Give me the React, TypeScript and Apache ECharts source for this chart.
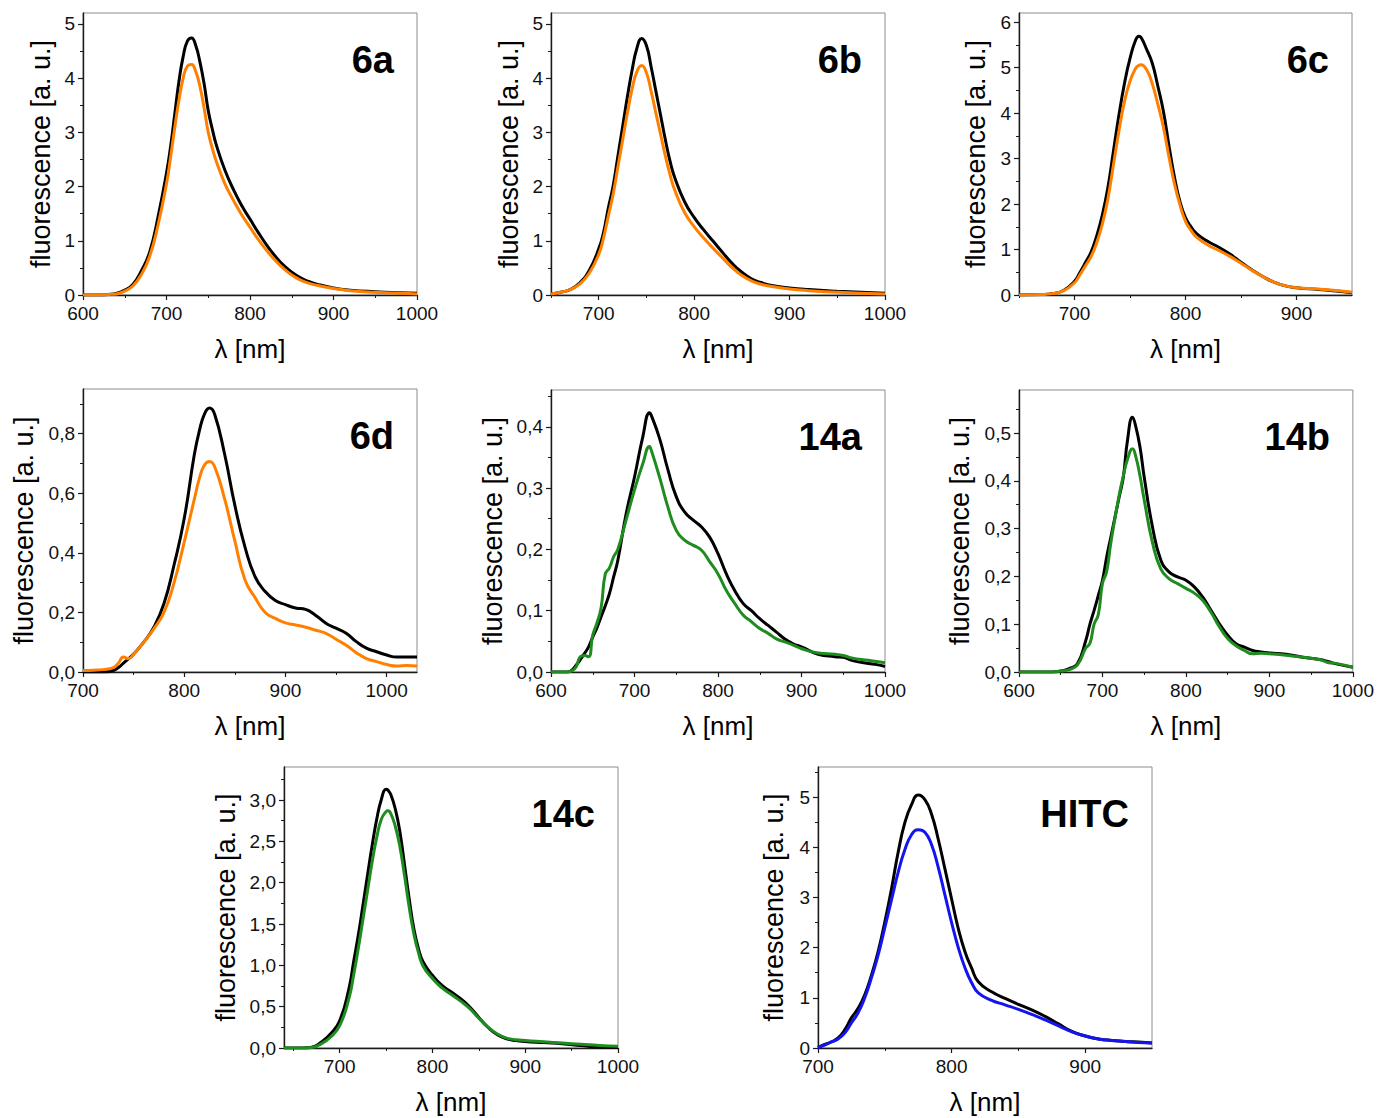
import React, { useEffect, useRef } from "react";
import * as echarts from "echarts";

// ---------- DATA ----------
const wl6a = [600,620,630,640,650,660,670,680,690,700,705,710,715,720,725,730,735,740,745,750,755,760,770,780,790,800,810,820,830,840,850,860,870,880,900,920,950,980,1000];
const ref6a = [0,0,0.01,0.03,0.09,0.2,0.45,0.8,1.45,2.25,2.75,3.35,3.95,4.4,4.68,4.74,4.6,4.3,3.9,3.4,3.05,2.75,2.3,1.95,1.65,1.4,1.15,0.92,0.72,0.55,0.42,0.32,0.25,0.2,0.13,0.09,0.06,0.04,0.03];
const smp6a = [0,0,0.01,0.02,0.07,0.17,0.38,0.72,1.3,2.05,2.55,3.1,3.6,4.0,4.22,4.25,4.12,3.85,3.45,3.0,2.7,2.45,2.05,1.75,1.48,1.25,1.02,0.82,0.64,0.49,0.37,0.28,0.22,0.18,0.12,0.08,0.05,0.03,0.02];

const wl6b = [650,660,670,680,690,700,705,710,715,720,725,730,735,740,745,750,755,760,765,770,775,780,790,800,810,820,830,840,850,860,870,880,900,920,950,1000];
const ref6b = [0.02,0.05,0.1,0.22,0.45,0.85,1.15,1.6,2.0,2.55,3.1,3.65,4.15,4.55,4.73,4.6,4.2,3.75,3.3,2.85,2.45,2.15,1.72,1.43,1.2,0.99,0.78,0.58,0.42,0.3,0.23,0.18,0.13,0.1,0.07,0.03];
const smp6b = [0.02,0.05,0.1,0.2,0.4,0.75,1.05,1.45,1.85,2.35,2.85,3.35,3.8,4.12,4.23,4.1,3.75,3.35,2.95,2.55,2.2,1.92,1.52,1.26,1.05,0.86,0.68,0.5,0.36,0.26,0.2,0.16,0.11,0.08,0.05,0.02];

const wl6c = [650,670,680,690,700,705,710,715,720,725,730,735,740,745,750,755,758,760,765,770,775,780,785,790,795,800,805,810,820,830,840,850,860,870,880,890,900,920,935,950];
const ref6c = [0,0.01,0.03,0.1,0.3,0.5,0.72,0.95,1.3,1.75,2.35,3.15,3.95,4.65,5.2,5.6,5.69,5.66,5.4,5.1,4.6,4.05,3.3,2.6,2.05,1.7,1.5,1.35,1.18,1.05,0.9,0.72,0.55,0.4,0.28,0.2,0.16,0.12,0.09,0.05];
const smp6c = [0,0.01,0.03,0.09,0.27,0.45,0.65,0.85,1.15,1.55,2.1,2.85,3.6,4.25,4.7,4.98,5.05,5.06,4.95,4.65,4.2,3.7,3.05,2.45,1.98,1.62,1.42,1.27,1.1,0.98,0.85,0.7,0.54,0.4,0.28,0.2,0.16,0.13,0.1,0.06];

const wl6d = [700,710,720,730,735,740,745,750,760,770,780,790,800,810,815,820,825,830,840,850,860,870,880,890,900,910,920,930,940,950,960,970,980,990,1000,1010,1020,1030];
const ref6d = [0,0,0,0.005,0.015,0.03,0.045,0.06,0.1,0.15,0.23,0.36,0.515,0.73,0.81,0.866,0.886,0.866,0.73,0.56,0.42,0.32,0.27,0.24,0.226,0.215,0.21,0.19,0.164,0.147,0.13,0.102,0.08,0.068,0.057,0.05,0.05,0.05];
const smp6d = [0.005,0.006,0.008,0.015,0.03,0.05,0.045,0.06,0.1,0.145,0.2,0.3,0.436,0.58,0.65,0.695,0.707,0.69,0.58,0.44,0.31,0.25,0.2,0.18,0.165,0.158,0.15,0.14,0.13,0.11,0.09,0.065,0.045,0.035,0.025,0.02,0.022,0.02];

const wl14a = [600,620,625,630,635,640,645,650,655,660,665,670,675,680,690,700,710,718,720,730,740,750,760,770,780,790,800,810,820,830,840,850,860,870,880,890,900,920,940,950,960,980,990,1000];
const ref14a = [0,0,0.003,0.011,0.02,0.03,0.041,0.057,0.072,0.09,0.108,0.128,0.155,0.182,0.258,0.318,0.384,0.423,0.419,0.381,0.33,0.286,0.261,0.248,0.237,0.22,0.193,0.16,0.133,0.112,0.1,0.087,0.076,0.065,0.054,0.046,0.041,0.029,0.025,0.024,0.019,0.014,0.012,0.009];
const smp14a = [0,0,0.002,0.008,0.025,0.027,0.025,0.06,0.08,0.105,0.16,0.17,0.188,0.2,0.248,0.297,0.34,0.368,0.362,0.318,0.269,0.231,0.215,0.207,0.199,0.18,0.16,0.133,0.112,0.093,0.082,0.071,0.063,0.054,0.049,0.044,0.038,0.031,0.029,0.027,0.023,0.019,0.017,0.015];

const wl14b = [600,640,650,660,670,680,685,690,695,700,705,710,720,725,730,736,740,745,750,760,770,780,790,800,810,820,830,840,850,860,870,880,890,900,920,940,960,970,980,1000];
const ref14b = [0,0,0.002,0.007,0.017,0.066,0.1,0.129,0.16,0.192,0.24,0.282,0.366,0.408,0.485,0.533,0.513,0.47,0.408,0.303,0.234,0.209,0.199,0.192,0.178,0.157,0.129,0.101,0.077,0.059,0.052,0.045,0.042,0.04,0.037,0.031,0.026,0.022,0.017,0.01];
const smp14b = [0,0,0.002,0.005,0.015,0.05,0.06,0.1,0.12,0.185,0.21,0.27,0.37,0.41,0.445,0.467,0.45,0.41,0.36,0.27,0.215,0.195,0.185,0.175,0.165,0.15,0.125,0.095,0.07,0.055,0.045,0.038,0.039,0.038,0.035,0.031,0.026,0.02,0.018,0.01];

const wl14c = [640,660,670,680,690,700,710,715,720,725,730,735,740,745,750,752,755,760,765,770,775,780,785,790,800,810,820,830,840,850,860,870,880,890,900,920,940,960,980,1000];
const ref14c = [0,0,0.01,0.07,0.17,0.33,0.72,1.04,1.36,1.72,2.09,2.45,2.77,3.01,3.13,3.12,3.07,2.89,2.61,2.21,1.8,1.44,1.2,1.04,0.88,0.76,0.68,0.6,0.5,0.37,0.25,0.16,0.11,0.09,0.08,0.065,0.05,0.03,0.012,0.008];
const smp14c = [0,0,0.005,0.05,0.13,0.27,0.6,0.88,1.2,1.55,1.9,2.25,2.55,2.77,2.86,2.87,2.84,2.68,2.43,2.08,1.7,1.38,1.15,0.99,0.84,0.73,0.65,0.57,0.48,0.36,0.25,0.17,0.12,0.1,0.09,0.075,0.06,0.045,0.03,0.02];

const wlHITC = [700,705,710,715,720,725,730,735,740,745,750,755,760,765,770,775,780,785,790,795,800,805,810,815,820,830,840,850,860,870,880,890,900,910,920,930,940,950];
const refHITC = [0.01,0.07,0.12,0.2,0.36,0.6,0.79,1.06,1.45,1.92,2.51,3.17,3.9,4.49,4.85,5.04,4.95,4.66,4.16,3.57,2.97,2.38,1.92,1.59,1.32,1.12,0.99,0.87,0.76,0.63,0.48,0.33,0.24,0.18,0.15,0.13,0.12,0.1];
const smpHITC = [0.01,0.06,0.12,0.18,0.3,0.5,0.7,1.0,1.4,1.85,2.4,2.95,3.5,3.95,4.25,4.35,4.3,4.05,3.6,3.05,2.5,2.0,1.6,1.3,1.1,0.95,0.86,0.77,0.67,0.56,0.44,0.32,0.24,0.18,0.15,0.13,0.11,0.1];

const labels = ["6a", "6b", "6c", "6d", "14a", "14b", "14c", "HITC"];
const xRanges = [[600,1000],[650,1000],[650,950],[700,1030],[600,1000],[600,1000],[640,1000],[700,950]];
const xMajor = [[600,700,800,900,1000],[700,800,900,1000],[700,800,900],[700,800,900,1000],[600,700,800,900,1000],[600,700,800,900,1000],[700,800,900,1000],[700,800,900]];
const xMinor = [[650,750,850,950],[650,750,850,950],[650,750,850],[750,850,950],[650,750,850,950],[650,750,850,950],[650,750,850,950],[750,850]];
const yMax = [5.2,5.2,6.2,0.95,0.46,0.59,3.4,5.6];
const yMajor = [[0,1,2,3,4,5],[0,1,2,3,4,5],[0,1,2,3,4,5,6],[0,0.2,0.4,0.6,0.8],[0,0.1,0.2,0.3,0.4],[0,0.1,0.2,0.3,0.4,0.5],[0,0.5,1,1.5,2,2.5,3],[0,1,2,3,4,5]];
const yMinor = [[0.5,1.5,2.5,3.5,4.5],[0.5,1.5,2.5,3.5,4.5],[0.5,1.5,2.5,3.5,4.5,5.5],[0.1,0.3,0.5,0.7,0.9],[0.05,0.15,0.25,0.35,0.45],[0.05,0.15,0.25,0.35,0.45,0.55],[0.25,0.75,1.25,1.75,2.25,2.75,3.25],[0.5,1.5,2.5,3.5,4.5,5.5]];
const wls = [wl6a, wl6b, wl6c, wl6d, wl14a, wl14b, wl14c, wlHITC];
const refs = [ref6a, ref6b, ref6c, ref6d, ref14a, ref14b, ref14c, refHITC];
const smps = [smp6a, smp6b, smp6c, smp6d, smp14a, smp14b, smp14c, smpHITC];

// ---------- LAYOUT / STYLE ----------
const ORANGE = "#ff8000";
const GREEN = "#1e8c1e";
const BLUE = "#1414f0";
const sampleColors = [ORANGE, ORANGE, ORANGE, ORANGE, GREEN, GREEN, GREEN, BLUE];
const grids = [
  { left: 83, top: 13, width: 334, height: 282 },
  { left: 551, top: 13, width: 334, height: 282 },
  { left: 1019, top: 13, width: 333, height: 282 },
  { left: 83, top: 389, width: 334, height: 283 },
  { left: 551, top: 390, width: 334, height: 282 },
  { left: 1019, top: 390, width: 334, height: 282 },
  { left: 284, top: 767, width: 334, height: 281 },
  { left: 818, top: 767, width: 334, height: 281 },
];
const decimalComma = [false, false, false, true, true, true, true, false];
const yNameGap = [29, 29, 30, 46, 45, 46, 45, 31];

const FONT = '"Liberation Sans", Arial, Helvetica, sans-serif';
const AX = "#1a1a1a";

function buildOption() {
  const grid: any[] = [];
  const xAxis: any[] = [];
  const yAxis: any[] = [];
  const series: any[] = [];
  const graphic: any[] = [];
  for (let i = 0; i < 8; i++) {
    const g = grids[i];
    grid.push({ ...g, show: true, borderColor: "#8c8c8c", borderWidth: 1, backgroundColor: "transparent", containLabel: false });
    const yfmt = (v: number) => {
      if (!decimalComma[i]) return String(Math.round(v));
      return v.toFixed(1).replace(".", ",");
    };
    const xfmt = (v: number) => String(Math.round(v));
    xAxis.push({
      gridIndex: i, type: "value", position: "bottom", min: xRanges[i][0], max: xRanges[i][1],
      name: "λ [nm]", nameLocation: "middle", nameGap: 41,
      nameTextStyle: { fontFamily: FONT, fontSize: 26, color: "#000" },
      axisLine: { show: true, onZero: false, lineStyle: { color: AX, width: 1.4 } },
      axisTick: { show: true, inside: false, length: 5, customValues: xMajor[i], lineStyle: { color: AX, width: 1.2 } },
      axisLabel: { show: true, customValues: xMajor[i], margin: 9, fontFamily: FONT, fontSize: 19, color: "#111", formatter: xfmt },
      splitLine: { show: false },
    });
    xAxis.push({
      gridIndex: i, type: "value", position: "bottom", min: xRanges[i][0], max: xRanges[i][1],
      axisLine: { show: false },
      axisTick: { show: true, inside: false, length: 3, customValues: xMinor[i], lineStyle: { color: AX, width: 1 } },
      axisLabel: { show: false },
      splitLine: { show: false },
    });
    yAxis.push({
      gridIndex: i, type: "value", position: "left", min: 0, max: yMax[i],
      name: "fluorescence [a. u.]", nameLocation: "middle", nameGap: yNameGap[i],
      nameTextStyle: { fontFamily: FONT, fontSize: 27, color: "#000" },
      axisLine: { show: true, onZero: false, lineStyle: { color: AX, width: 1.4 } },
      axisTick: { show: true, inside: false, length: 5, customValues: yMajor[i], lineStyle: { color: AX, width: 1.2 } },
      axisLabel: { show: true, customValues: yMajor[i], margin: 8, fontFamily: FONT, fontSize: 19, color: "#111", formatter: yfmt },
      splitLine: { show: false },
    });
    yAxis.push({
      gridIndex: i, type: "value", position: "left", min: 0, max: yMax[i],
      axisLine: { show: false },
      axisTick: { show: true, inside: false, length: 3, customValues: yMinor[i], lineStyle: { color: AX, width: 1 } },
      axisLabel: { show: false },
      splitLine: { show: false },
    });
    const wl = wls[i];
    series.push({
      type: "line", xAxisIndex: 2 * i, yAxisIndex: 2 * i, showSymbol: false, symbol: "none",
      smooth: 0.5,
      lineStyle: { color: "#000", width: 3 },
      data: wl.map((x, k) => [x, refs[i][k]]),
      z: 3,
    });
    series.push({
      type: "line", xAxisIndex: 2 * i, yAxisIndex: 2 * i, showSymbol: false, symbol: "none",
      smooth: 0.5,
      lineStyle: { color: sampleColors[i], width: 3 },
      data: wl.map((x, k) => [x, smps[i][k]]),
      z: 4,
    });
    graphic.push({
      type: "text",
      x: g.left + g.width - 23,
      y: g.top + 47,
      style: {
        text: labels[i], fontFamily: FONT, fontWeight: "bold", fontSize: 38, fill: "#000",
        textAlign: "right", textVerticalAlign: "middle",
      },
    });
  }
  return { animation: false, backgroundColor: "#fff", grid, xAxis, yAxis, series, graphic };
}

export default function App() {
  const ref = useRef<HTMLDivElement>(null);
  useEffect(() => {
    if (!ref.current) return;
    const chart = echarts.init(ref.current, undefined, { renderer: "svg" });
    chart.setOption(buildOption() as any);
    return () => chart.dispose();
  }, []);
  return (
    <div
      ref={ref}
      style={{ position: "absolute", left: 0, top: 0, width: 1377, height: 1118, background: "#fff" }}
    />
  );
}
